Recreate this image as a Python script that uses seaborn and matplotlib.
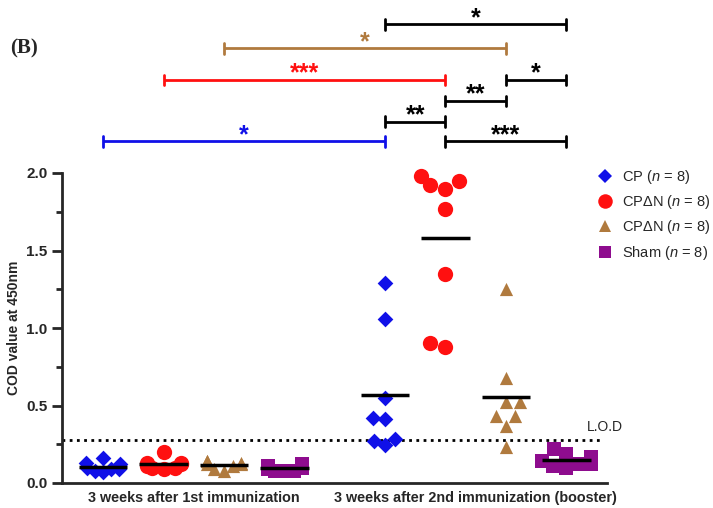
import numpy as np
import pandas as pd
import matplotlib
matplotlib.use("Agg")
import matplotlib.pyplot as plt
from matplotlib.lines import Line2D
import seaborn as sns

# ---------------- data ----------------
timepoints = ["3 weeks after 1st immunization", "3 weeks after 2nd immunization (booster)"]
series = ["CP", "CPΔN", "CPΔN ", "Sham"]
legend_labels = ["CP ($\\it{n}$ = 8)", "CPΔN ($\\it{n}$ = 8)", "CPΔN ($\\it{n}$ = 8)", "Sham ($\\it{n}$ = 8)"]

cp_wk1 = [0.16, 0.13, 0.12, 0.10, 0.09, 0.08, 0.07, 0.09]
cpdn_wk1 = [0.20, 0.13, 0.12, 0.11, 0.10, 0.10, 0.09, 0.13]
cpdn2_wk1 = [0.14, 0.14, 0.13, 0.12, 0.11, 0.09, 0.08, 0.12]
sham_wk1 = [0.12, 0.11, 0.10, 0.10, 0.09, 0.08, 0.08, 0.08]

cp_wk2 = [1.29, 1.06, 0.55, 0.42, 0.41, 0.285, 0.27, 0.245]
cpdn_wk2 = [1.98, 1.90, 1.92, 1.95, 1.77, 1.35, 0.905, 0.88]
cpdn2_wk2 = [1.25, 0.675, 0.52, 0.52, 0.432, 0.43, 0.368, 0.234]
sham_wk2 = [0.22, 0.19, 0.17, 0.14, 0.12, 0.10, 0.11, 0.12]

lod = 0.28

# significance brackets: (series index a, timepoint a, series index b, timepoint b, label, colour key)
brackets = [
    (0, 1, 3, 1, "*", "k"),
    (2, 0, 2, 1, "*", "brown"),
    (1, 0, 1, 1, "***", "red"),
    (2, 1, 3, 1, "*", "k"),
    (1, 1, 2, 1, "**", "k"),
    (0, 1, 1, 1, "**", "k"),
    (0, 0, 0, 1, "*", "blue"),
    (1, 1, 3, 1, "***", "k"),
]
bracket_levels = [2.96, 2.805, 2.60, 2.60, 2.465, 2.33, 2.205, 2.205]

values = {
    (0, 0): cp_wk1, (1, 0): cpdn_wk1, (2, 0): cpdn2_wk1, (3, 0): sham_wk1,
    (0, 1): cp_wk2, (1, 1): cpdn_wk2, (2, 1): cpdn2_wk2, (3, 1): sham_wk2,
}

# ---------------- style ----------------
sns.set_style("ticks")
plt.rcParams["font.family"] = ["Liberation Sans", "DejaVu Sans"]
plt.rcParams["mathtext.fontset"] = "custom"
plt.rcParams["mathtext.rm"] = "Liberation Sans"
plt.rcParams["mathtext.it"] = "Liberation Sans:italic"

colors = {"blue": "#1010e8", "red": "#ff1010", "brown": "#b07a3e", "purple": "#8e0c8e", "k": "black"}
ser_colors = [colors["blue"], colors["red"], colors["brown"], colors["purple"]]
markers = ["D", "o", "^", "s"]
msizes = [8, 11, 9.5, 9.5]
squeeze = [0.7, 1.0]   # crowded first time point: points overlap in the reference

group_gap = 4.66


def xpos(s, t):
    return s + t * group_gap


rows = []
for (s, t), v in values.items():
    for val in v:
        rows.append({"series": series[s], "time": timepoints[t], "pos": xpos(s, t), "value": val, "s": s, "t": t})
df = pd.DataFrame(rows)

fig = plt.figure(figsize=(7.13, 5.08), dpi=100)
ax = fig.add_axes([62 / 713, 25 / 508, (607 - 62) / 713, (483 - 173) / 508])

swarm_colls = []
for (s, t), v in values.items():
    sub = df[(df.s == s) & (df.t == t)]
    sns.swarmplot(data=sub, x="pos", y="value", native_scale=True, marker=markers[s],
                  color=ser_colors[s], size=msizes[s], linewidth=0, ax=ax,
                  warn_thresh=1.0)
    coll = ax.collections[-1]
    coll.set_clip_on(False)
    swarm_colls.append((coll, s, t))
    m = np.mean(v)
    ax.hlines(m, xpos(s, t) - 0.4, xpos(s, t) + 0.4, color="black", lw=2.5, zorder=5)

ax.set_xlim(-0.68, 8.33)
ax.set_ylim(0, 2.0)
ax.axhline(lod, xmin=0, xmax=0.99, color="black", lw=2, ls=(0, (1, 1.6)), zorder=1)
ax.text(8.0, lod + 0.035, "L.O.D", fontsize=10, ha="left", va="bottom")

ax.set_xticks([(xpos(0, t) + xpos(3, t)) / 2 for t in range(2)])
ax.set_xticklabels(timepoints, fontsize=10.4, fontweight="bold")
ax.tick_params(axis="x", length=0, pad=6)
ax.set_yticks(np.arange(0, 2.01, 0.5))
ax.set_yticks(np.arange(0, 2.01, 0.25), minor=True)
ax.set_yticklabels([f"{v:.1f}" for v in np.arange(0, 2.01, 0.5)], fontsize=11, fontweight="bold")
ax.tick_params(axis="y", which="major", length=7, width=2)
ax.tick_params(axis="y", which="minor", length=4, width=2)
ax.set_xlabel("")
ax.set_ylabel("COD value at 450nm", fontsize=10, fontweight="bold", labelpad=4)
for sp in ["top", "right"]:
    ax.spines[sp].set_visible(False)
for sp in ["left", "bottom"]:
    ax.spines[sp].set_linewidth(2)

# brackets
for (sa, ta, sb, tb, lab, ck), yl in zip(brackets, bracket_levels):
    x0, x1 = xpos(sa, ta), xpos(sb, tb)
    c = colors[ck]
    ax.plot([x0, x1], [yl, yl], color=c, lw=2, clip_on=False, solid_capstyle="butt")
    for xx in (x0, x1):
        ax.plot([xx, xx], [yl - 0.035, yl + 0.035], color=c, lw=2, clip_on=False)
    ax.annotate(lab, xy=((x0 + x1) / 2, yl), xytext=(0, -0.5), textcoords="offset points",
                ha="center", va="baseline", fontsize=18, fontweight="bold", color=c,
                annotation_clip=False)

# legend
handles = [Line2D([], [], ls="none", marker=markers[i], color=ser_colors[i], markersize=msizes[i] * 0.95,
                  markeredgewidth=0) for i in range(4)]
fig.legend(handles, legend_labels, loc="upper left", bbox_to_anchor=(590 / 713, 1 - 162 / 508),
           frameon=False, fontsize=10.5, labelspacing=0.5, handletextpad=0.6, handlelength=1.2,
           borderaxespad=0)

fig.text(10 / 713, 1 - 48 / 508, "(B)", fontsize=15, fontweight="bold",
         family=["Liberation Serif", "DejaVu Serif"], va="center", ha="left")

# seaborn lays out the swarm at draw time; render once, then tighten the crowded groups
fig.canvas.draw()
for coll, s, t in swarm_colls:
    if squeeze[t] != 1.0:
        if "draw" in coll.__dict__:
            del coll.__dict__["draw"]
        off = np.asarray(coll.get_offsets()).copy()
        c0 = xpos(s, t)
        off[:, 0] = c0 + (off[:, 0] - c0) * squeeze[t]
        coll.set_offsets(off)

fig.savefig("out.png", dpi=100)
